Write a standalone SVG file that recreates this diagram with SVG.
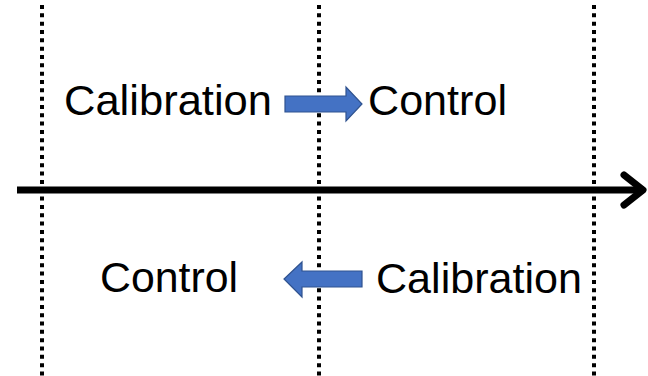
<svg xmlns="http://www.w3.org/2000/svg" width="648" height="376" viewBox="0 0 648 376">
<style>
.dot{stroke:#000;stroke-width:4;stroke-dasharray:4 4.33;fill:none}
.lbl{font-family:"Liberation Sans",Arial,sans-serif;font-size:42px;fill:#000}
.blk{fill:#4472C4;stroke:#2F528F;stroke-width:1.2}
</style>
<rect width="648" height="376" fill="#fff"/>
<g id="dividers">
<line class="dot" x1="42" y1="5" x2="42" y2="376"/>
<line class="dot" x1="319" y1="5" x2="319" y2="376"/>
<line class="dot" x1="594" y1="5" x2="594" y2="376"/>
</g>
<g id="connectors">
<line x1="17" y1="190" x2="644" y2="190" stroke="#000" stroke-width="7"/>
<polyline points="624,175 643,190 624,205" fill="none" stroke="#000" stroke-width="7" stroke-linecap="round" stroke-linejoin="round"/>
<path class="blk" d="M285,96 H346 V87 L362,104 L346,121 V112 H285 Z"/>
<path class="blk" d="M362,271 H302 V262 L284,279 L302,297 V287 H362 Z"/>
</g>
<g id="top-calibration"><text class="lbl" x="64" y="115" textLength="208" lengthAdjust="spacingAndGlyphs">Calibration</text></g>
<g id="top-control"><text class="lbl" x="368" y="115" textLength="139" lengthAdjust="spacingAndGlyphs">Control</text></g>
<g id="bottom-control"><text class="lbl" x="100" y="292" textLength="138" lengthAdjust="spacingAndGlyphs">Control</text></g>
<g id="bottom-calibration"><text class="lbl" x="376" y="293" textLength="206" lengthAdjust="spacingAndGlyphs">Calibration</text></g>
</svg>
